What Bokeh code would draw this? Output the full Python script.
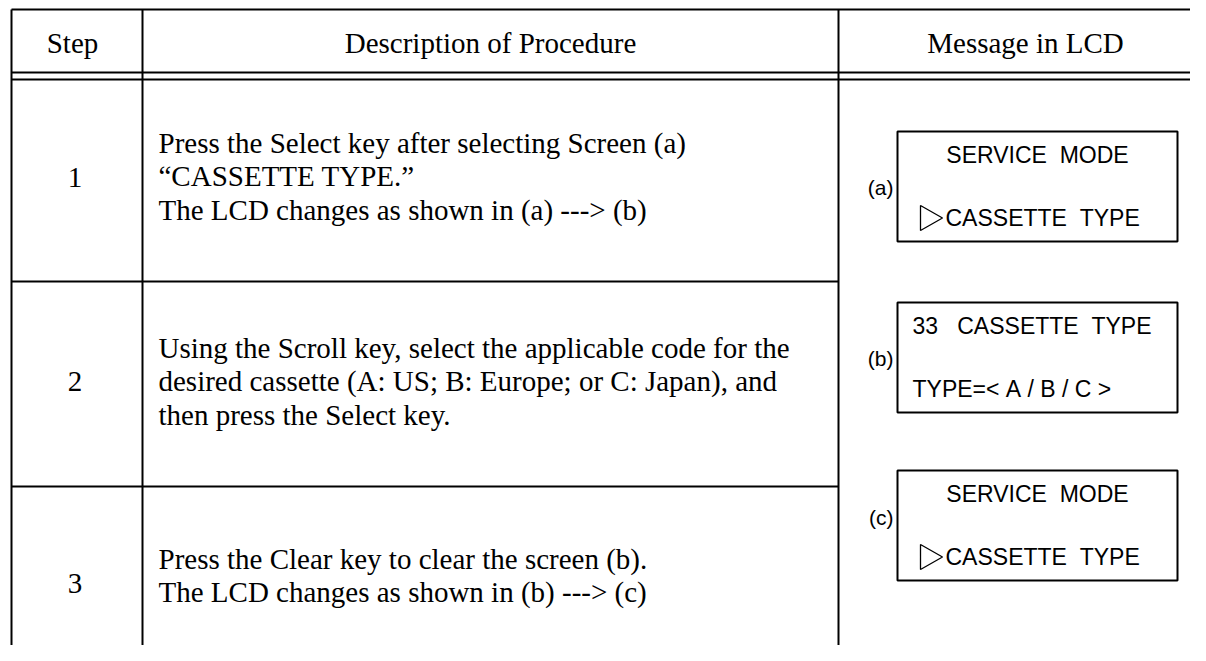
from bokeh.plotting import figure
from bokeh.models import Range1d
from bokeh.core.properties import value
from bokeh.embed import file_html
from bokeh.resources import INLINE

# ---------------- data ----------------
headers = ["Step", "Description of Procedure", "Message in LCD"]
step_numbers = ["1", "2", "3"]
descriptions = [
    ["Press the Select key after selecting Screen (a)",
     "\u201cCASSETTE TYPE.\u201d",
     "The LCD changes as shown in (a) ---> (b)"],
    ["Using the Scroll key, select the applicable code for the",
     "desired cassette (A: US; B: Europe; or C: Japan), and",
     "then press the Select key."],
    ["Press the Clear key to clear the screen (b).",
     "The LCD changes as shown in (b) ---> (c)"],
]
lcd_labels = ["(a)", "(b)", "(c)"]
NB = "\u00a0"
lcd_top_lines = ["SERVICE" + NB * 2 + "MODE",
                 "33" + NB * 3 + "CASSETTE" + NB * 2 + "TYPE",
                 "SERVICE" + NB * 2 + "MODE"]
lcd_bottom_lines = ["CASSETTE" + NB * 2 + "TYPE",
                    "TYPE=<" + NB + "A" + NB + "/" + NB + "B" + NB + "/" + NB + "C" + NB + ">",
                    "CASSETTE" + NB * 2 + "TYPE"]
lcd_top_centered = [True, False, True]
lcd_cursor = [True, False, True]

# ---------------- layout (screen pixels) ----------------
W, H = 1190, 645
col_x = [11, 142, 838, 1206]
top_y = 9
head_y = [72, 79]
row_y = [79, 281, 486, 661]
desc_first_mid = [142, 347, 558]
line_gap = 33.7
step_mid = [177, 381, 583]
desc_x = 158
box_left, box_right = 897, 1177
box_top = [131, 302, 470]
box_h = 110
label_y = [187, 358, 517]

SERIF = value("Liberation Serif")
SANS = value("Liberation Sans")

p = figure(width=W, height=H, x_range=Range1d(0, W), y_range=Range1d(H, 0),
           x_axis_type=None, y_axis_type=None, toolbar_location=None,
           output_backend="svg", min_border=0, background_fill_color="white",
           border_fill_color="white")
p.grid.visible = False
p.outline_line_color = None

# table lines
hx0, hx1, hy0, hy1 = [], [], [], []
for y in [top_y] + head_y:
    hx0.append(col_x[0]); hx1.append(col_x[3]); hy0.append(y); hy1.append(y)
for y in row_y[1:3]:
    hx0.append(col_x[0]); hx1.append(col_x[2]); hy0.append(y); hy1.append(y)
for x in col_x[:3]:
    hx0.append(x); hx1.append(x); hy0.append(top_y); hy1.append(row_y[-1])
p.segment(x0=hx0, y0=hy0, x1=hx1, y1=hy1, line_color="black", line_width=2)

# headers
head_cx = [72, (col_x[1] + col_x[2]) / 2, 1025]
p.text(x=head_cx, y=[42] * 3, text=headers,
       text_font=SERIF, text_font_size="29px", text_align="center",
       text_baseline="middle", text_color="black")

# step numbers
p.text(x=[(col_x[0] + col_x[1]) / 2 - 2] * 3, y=step_mid, text=step_numbers,
       text_font=SERIF, text_font_size="29px", text_align="center",
       text_baseline="middle", text_color="black")

# descriptions
dx, dy, dt = [], [], []
for i, lines in enumerate(descriptions):
    for j, t in enumerate(lines):
        dx.append(desc_x); dy.append(desc_first_mid[i] + j * line_gap); dt.append(t)
p.text(x=dx, y=dy, text=dt, text_font=SERIF, text_font_size="29px",
       text_align="left", text_baseline="middle", text_color="black")

# LCD boxes
bcx = (box_left + box_right) / 2
p.rect(x=[bcx] * 3, y=[t + box_h / 2 for t in box_top], width=box_right - box_left,
       height=box_h, fill_color=None, line_color="black", line_width=2)
p.text(x=[box_left - 4] * 3, y=label_y, text=lcd_labels, text_font=SANS,
       text_font_size="21px", text_align="right", text_baseline="middle",
       text_color="black")

cx, cy, ct = [], [], []
lx, ly, lt = [], [], []
for i in range(3):
    if lcd_top_centered[i]:
        cx.append(bcx); cy.append(box_top[i] + 23.5); ct.append(lcd_top_lines[i])
    else:
        lx.append(box_left + 15); ly.append(box_top[i] + 23.5); lt.append(lcd_top_lines[i])
    lx.append(box_left + (48 if lcd_cursor[i] else 15))
    ly.append(box_top[i] + 86); lt.append(lcd_bottom_lines[i])
p.text(x=cx, y=cy, text=ct, text_font=SANS, text_font_size="23px",
       text_align="center", text_baseline="middle", text_color="black")
p.text(x=lx, y=ly, text=lt, text_font=SANS, text_font_size="23px",
       text_align="left", text_baseline="middle", text_color="black")

# cursor triangles
txs, tys = [], []
for i in range(3):
    if lcd_cursor[i]:
        yt = box_top[i] + 74
        txs.append([box_left + 23, box_left + 23, box_left + 45])
        tys.append([yt, yt + 25, yt + 12.5])
p.patches(xs=txs, ys=tys, fill_color=None, line_color="black", line_width=1.3)

open("out.html", "w").write(file_html(p, INLINE))
